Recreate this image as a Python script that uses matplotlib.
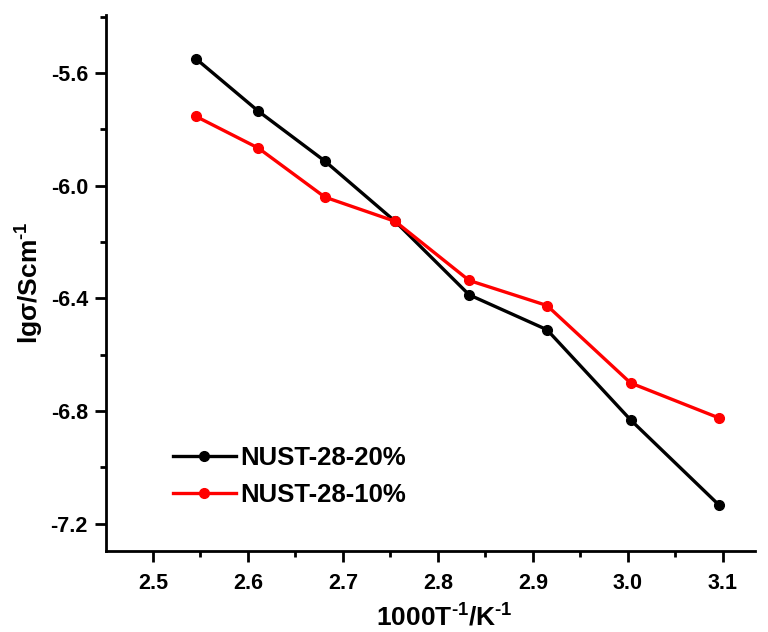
import matplotlib
matplotlib.use('Agg')
import matplotlib.pyplot as plt
from matplotlib.ticker import MultipleLocator

plt.rcParams['font.family'] = 'Liberation Sans'
plt.rcParams['font.weight'] = 'bold'
plt.rcParams['axes.unicode_minus'] = False
plt.rcParams['mathtext.fontset'] = 'custom'
plt.rcParams['mathtext.rm'] = 'Liberation Sans:bold'
plt.rcParams['mathtext.it'] = 'Liberation Sans:bold:italic'
plt.rcParams['mathtext.bf'] = 'Liberation Sans:bold'
plt.rcParams['mathtext.default'] = 'rm'

# 1000/T for T = 393 ... 323 K
inv_T = [2.545, 2.611, 2.681, 2.755, 2.833, 2.915, 3.003, 3.096]
lg_20 = [-5.549, -5.736, -5.913, -6.127, -6.388, -6.512, -6.832, -7.134]
lg_10 = [-5.754, -5.867, -6.041, -6.127, -6.337, -6.426, -6.701, -6.825]
labels = ['NUST-28-20%', 'NUST-28-10%']

fig = plt.figure(figsize=(7.68, 6.32), dpi=100)
ax = fig.add_axes([0.138, 0.128, 0.845, 0.848])

ax.plot(inv_T, lg_20, '-o', color='black', lw=2.4, ms=7, label=labels[0])
ax.plot(inv_T, lg_10, '-o', color='red', lw=2.4, ms=7, label=labels[1])

ax.set_xlim(2.4505, 3.134)
ax.set_ylim(-7.298, -5.395)
ax.xaxis.set_major_locator(MultipleLocator(0.1))
ax.xaxis.set_minor_locator(MultipleLocator(0.05))
ax.yaxis.set_major_locator(MultipleLocator(0.4))
ax.yaxis.set_minor_locator(MultipleLocator(0.2))
ax.xaxis.set_major_formatter(plt.FormatStrFormatter('%.1f'))
ax.yaxis.set_major_formatter(plt.FormatStrFormatter('%.1f'))

for s in ['top', 'right']:
    ax.spines[s].set_visible(False)
for s in ['left', 'bottom']:
    ax.spines[s].set_linewidth(2.0)

ax.tick_params(which='major', direction='out', length=8, width=2, labelsize=15.5)
ax.tick_params(axis='x', which='major', pad=8)
ax.tick_params(axis='y', which='major', pad=5)
ax.tick_params(which='minor', direction='out', length=4.5, width=2)

ax.set_xlabel(r'1000T$^{\text{-1}}$/K$^{\text{-1}}$', fontsize=19, fontweight='bold')
ax.set_ylabel(r'lgσ/Scm$^{\text{-1}}$', fontsize=19, fontweight='bold')
ax.xaxis.set_label_coords(0.522, -0.098)
ax.yaxis.set_label_coords(-0.093, 0.5)

ax.legend(loc='lower left', bbox_to_anchor=(0.067, 0.04), frameon=False, fontsize=18.5,
          handlelength=2.45, handletextpad=0.2, labelspacing=0.5)

fig.savefig('out.png', dpi=100)
